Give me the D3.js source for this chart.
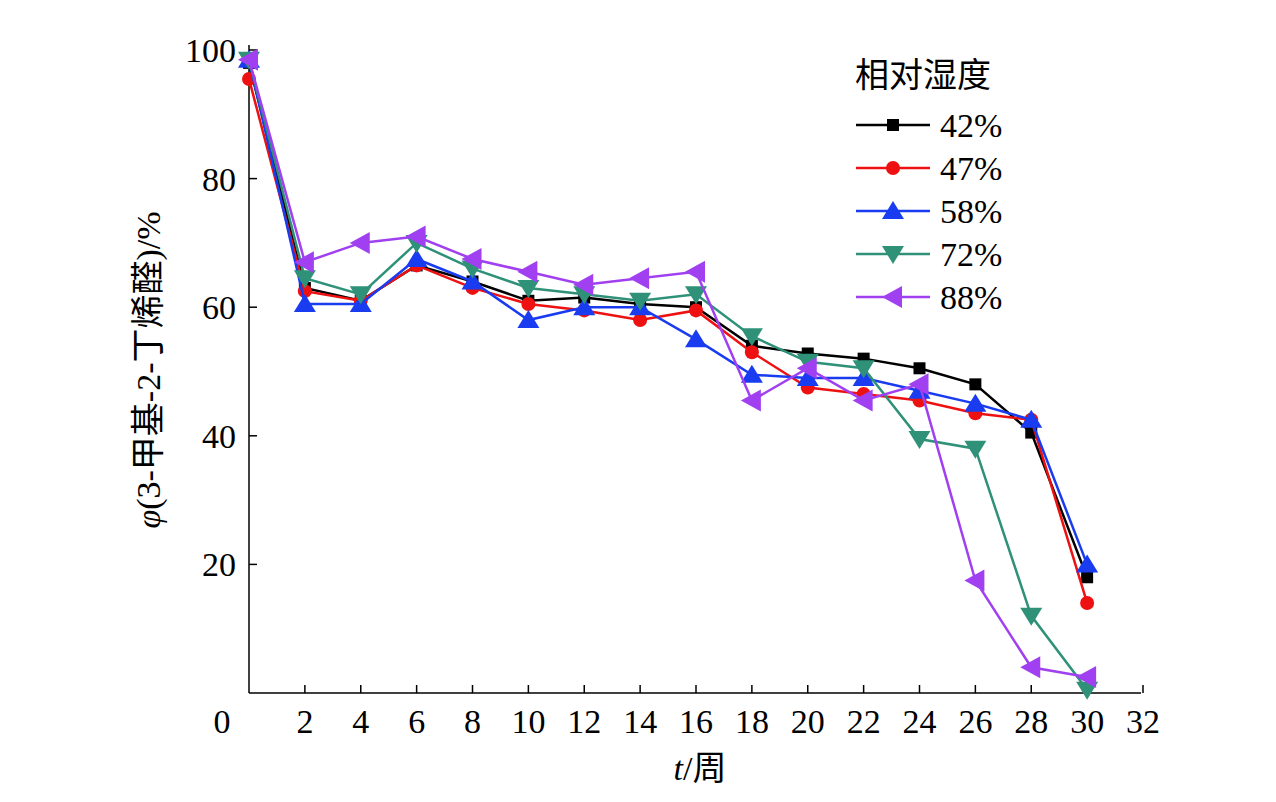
<!DOCTYPE html>
<html><head><meta charset="utf-8">
<script src="https://cdn.jsdelivr.net/npm/d3@7"></script>
<style>body{margin:0;background:#fff}text{font-family:"Liberation Serif",serif}.cjk{font-family:"Noto Sans CJK SC",sans-serif}</style>
</head><body><svg id="chart" width="1276" height="802"></svg>
<script>
var weeks = [0, 2, 4, 6, 8, 10, 12, 14, 16, 18, 20, 22, 24, 26, 28, 30];
var rh42 = [98, 63, 61, 66.5, 64, 61, 61.5, 60.5, 60, 54, 52.8, 52, 50.5, 48, 40.5, 18];
var rh47 = [95.5, 62.5, 61, 66.5, 63, 60.5, 59.5, 58, 59.5, 53, 47.5, 46.5, 45.5, 43.5, 42.5, 14];
var rh58 = [98.5, 60.5, 60.5, 67.5, 64, 58, 60, 60, 55, 49.5, 49, 49, 47, 45, 42.5, 20];
var rh72 = [98.5, 64.5, 62, 70, 66, 63, 62, 61, 62, 55.5, 51.5, 50.5, 39.5, 38, 12, 0.5];
var rh88 = [98.5, 67, 70, 71, 67.5, 65.5, 63.5, 64.5, 65.5, 45.5, 50.5, 45.5, 48, 17.5, 4, 2.5];
var labels = ["42%", "47%", "58%", "72%", "88%"];
var colors = ["#000000", "#ee1111", "#1a3cf0", "#2e9178", "#a040f0"];
var series = [rh42, rh47, rh58, rh72, rh88];
var xTicks = [2, 4, 6, 8, 10, 12, 14, 16, 18, 20, 22, 24, 26, 28, 30, 32];
var yTicks = [20, 40, 60, 80, 100];

var svg = d3.select("#chart");
var x = d3.scaleLinear().domain([0, 32]).range([249, 1143]);
var y = d3.scaleLinear().domain([0, 100]).range([693, 50]);

var g = svg.append("g");
g.append("line").attr("x1", 249).attr("x2", 1141).attr("y1", 693).attr("y2", 693).attr("stroke", "#000").attr("stroke-width", 1.5);
g.append("line").attr("x1", 249).attr("x2", 249).attr("y1", 693).attr("y2", 45).attr("stroke", "#000").attr("stroke-width", 1.5);
xTicks.forEach(function (t) {
    g.append("line").attr("x1", x(t)).attr("x2", x(t)).attr("y1", 693).attr("y2", 685).attr("stroke", "#000").attr("stroke-width", 1.5);
    g.append("text").attr("x", x(t)).attr("y", 733).attr("text-anchor", "middle").attr("font-size", 34).text(t);
});
g.append("text").attr("x", 222).attr("y", 733).attr("text-anchor", "middle").attr("font-size", 34).text(0);
yTicks.forEach(function (t) {
    g.append("line").attr("x1", 249).attr("x2", 257).attr("y1", y(t)).attr("y2", y(t)).attr("stroke", "#000").attr("stroke-width", 1.5);
    g.append("text").attr("x", 236).attr("y", y(t) + 12).attr("text-anchor", "end").attr("font-size", 34).text(t);
});

var xl = svg.append("text").attr("x", 700).attr("y", 780).attr("text-anchor", "middle").attr("font-size", 34);
xl.append("tspan").attr("font-style", "italic").text("t");
xl.append("tspan").text("/");
xl.append("tspan").attr("class", "cjk").text("周");
var yl = svg.append("text").attr("transform", "translate(160,370) rotate(-90)").attr("text-anchor", "middle").attr("font-size", 34);
yl.append("tspan").attr("font-style", "italic").text("φ");
yl.append("tspan").text("(3-");
yl.append("tspan").attr("class", "cjk").text("甲基");
yl.append("tspan").text("-2-");
yl.append("tspan").attr("class", "cjk").text("丁烯醛");
yl.append("tspan").text(")/%");

var symbols = [
    function (s, cx, cy) { s.append("rect").attr("x", cx - 6).attr("y", cy - 6).attr("width", 12).attr("height", 12); },
    function (s, cx, cy) { s.append("circle").attr("cx", cx).attr("cy", cy).attr("r", 7); },
    function (s, cx, cy) { s.append("path").attr("d", "M" + cx + "," + (cy - 10) + "L" + (cx + 11) + "," + (cy + 8) + "L" + (cx - 11) + "," + (cy + 8) + "Z"); },
    function (s, cx, cy) { s.append("path").attr("d", "M" + cx + "," + (cy + 10) + "L" + (cx + 11) + "," + (cy - 8) + "L" + (cx - 11) + "," + (cy - 8) + "Z"); },
    function (s, cx, cy) { s.append("path").attr("d", "M" + (cx - 11) + "," + cy + "L" + (cx + 9) + "," + (cy - 11) + "L" + (cx + 9) + "," + (cy + 11) + "Z"); }
];

var line = d3.line().x(function (d, i) { return x(weeks[i]); }).y(function (d) { return y(d); });
series.forEach(function (vals, k) {
    svg.append("path").datum(vals).attr("d", line).attr("fill", "none").attr("stroke", colors[k]).attr("stroke-width", 2.5);
    var sg = svg.append("g").attr("fill", colors[k]);
    vals.forEach(function (v, i) { symbols[k](sg, x(weeks[i]), y(v)); });
});

svg.append("text").attr("class", "cjk").attr("x", 855).attr("y", 87).attr("font-size", 34).text("相对湿度");
labels.forEach(function (l, k) {
    var ly = 125 + k * 43;
    svg.append("line").attr("x1", 856).attr("x2", 930).attr("y1", ly).attr("y2", ly).attr("stroke", colors[k]).attr("stroke-width", 2.5);
    var sg = svg.append("g").attr("fill", colors[k]);
    symbols[k](sg, 893, ly);
    svg.append("text").attr("x", 940).attr("y", ly + 12).attr("font-size", 34).text(l);
});
</script></body></html>
